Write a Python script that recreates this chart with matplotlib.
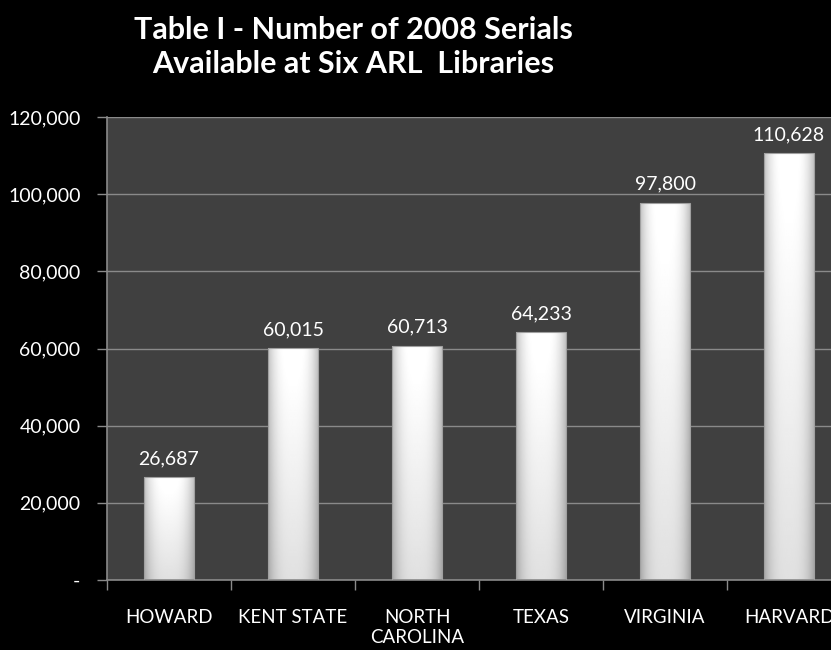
import numpy as np
import matplotlib.pyplot as plt
from matplotlib.patches import Rectangle
from matplotlib.ticker import FuncFormatter

libraries = ['HOWARD', 'KENT STATE', 'NORTH\nCAROLINA', 'TEXAS', 'VIRGINIA', 'HARVARD']
serials = [26687, 60015, 60713, 64233, 97800, 110628]
yticks = [0, 20000, 40000, 60000, 80000, 100000, 120000]

plt.rcParams['font.family'] = ['Lato', 'DejaVu Sans']

fig = plt.figure(figsize=(8.31, 6.5), dpi=100, facecolor='black')
ax = fig.add_axes([107 / 831, 70 / 650, 744 / 831, 463 / 650])
ax.set_facecolor('#404040')

x = np.arange(len(libraries))
bar_w = 0.4

# gradient used to fill each bar: white in the middle, grey towards the edges
u = np.linspace(-1, 1, 60)
v = np.linspace(0, 1, 100)[:, None]
horiz = 1 - 0.25 * np.abs(u) ** 3
vert = 0.88 + 0.14 * v
grad = np.clip(horiz[None, :] * vert, 0, 1)

for xi, val in zip(x, serials):
    rect = Rectangle((xi - bar_w / 2, 0), bar_w, val, facecolor='none',
                     edgecolor='#a0a0a0', linewidth=0.8, zorder=3)
    ax.add_patch(rect)
    im = ax.imshow(grad, cmap='gray', vmin=0, vmax=1, origin='lower',
                   extent=(xi - bar_w / 2, xi + bar_w / 2, 0, val),
                   aspect='auto', zorder=2, interpolation='bilinear')
    im.set_clip_path(rect)
    ax.text(xi, val + 2600, f'{val:,}', ha='center', va='bottom',
            color='white', fontsize=14)

ax.set_xlim(-0.5, len(libraries) - 0.5)
ax.set_ylim(0, 120000)
ax.set_yticks(yticks)
ax.yaxis.set_major_formatter(FuncFormatter(lambda y, p: '-' if y == 0 else f'{int(y):,}'))
ax.grid(axis='y', color='#8a8a8a', linewidth=1)
ax.set_axisbelow(True)

ax.set_xticks(np.arange(len(libraries) + 1) - 0.5)
ax.set_xticklabels([])
ax.set_xticks(x, minor=True)
ax.set_xticklabels(libraries, minor=True, va='top')
ax.tick_params(axis='x', which='minor', length=0, pad=21, labelsize=13.5, colors='white')
ax.tick_params(axis='x', which='major', length=7, color='#8a8a8a', width=1)
ax.tick_params(axis='y', length=7, color='#8a8a8a', width=1, labelsize=14,
               labelcolor='white', pad=12)

for s in ['top', 'right']:
    ax.spines[s].set_visible(False)
for s in ['left', 'bottom']:
    ax.spines[s].set_color('#8a8a8a')
    ax.spines[s].set_linewidth(1.2)

fig.text(353 / 831, 1 - 47 / 650, 'Table I - Number of 2008 Serials\nAvailable at Six ARL  Libraries',
         ha='center', va='center', color='white', fontsize=22, fontweight='bold',
         linespacing=1.3)

fig.savefig('out.png', dpi=100, facecolor='black')
